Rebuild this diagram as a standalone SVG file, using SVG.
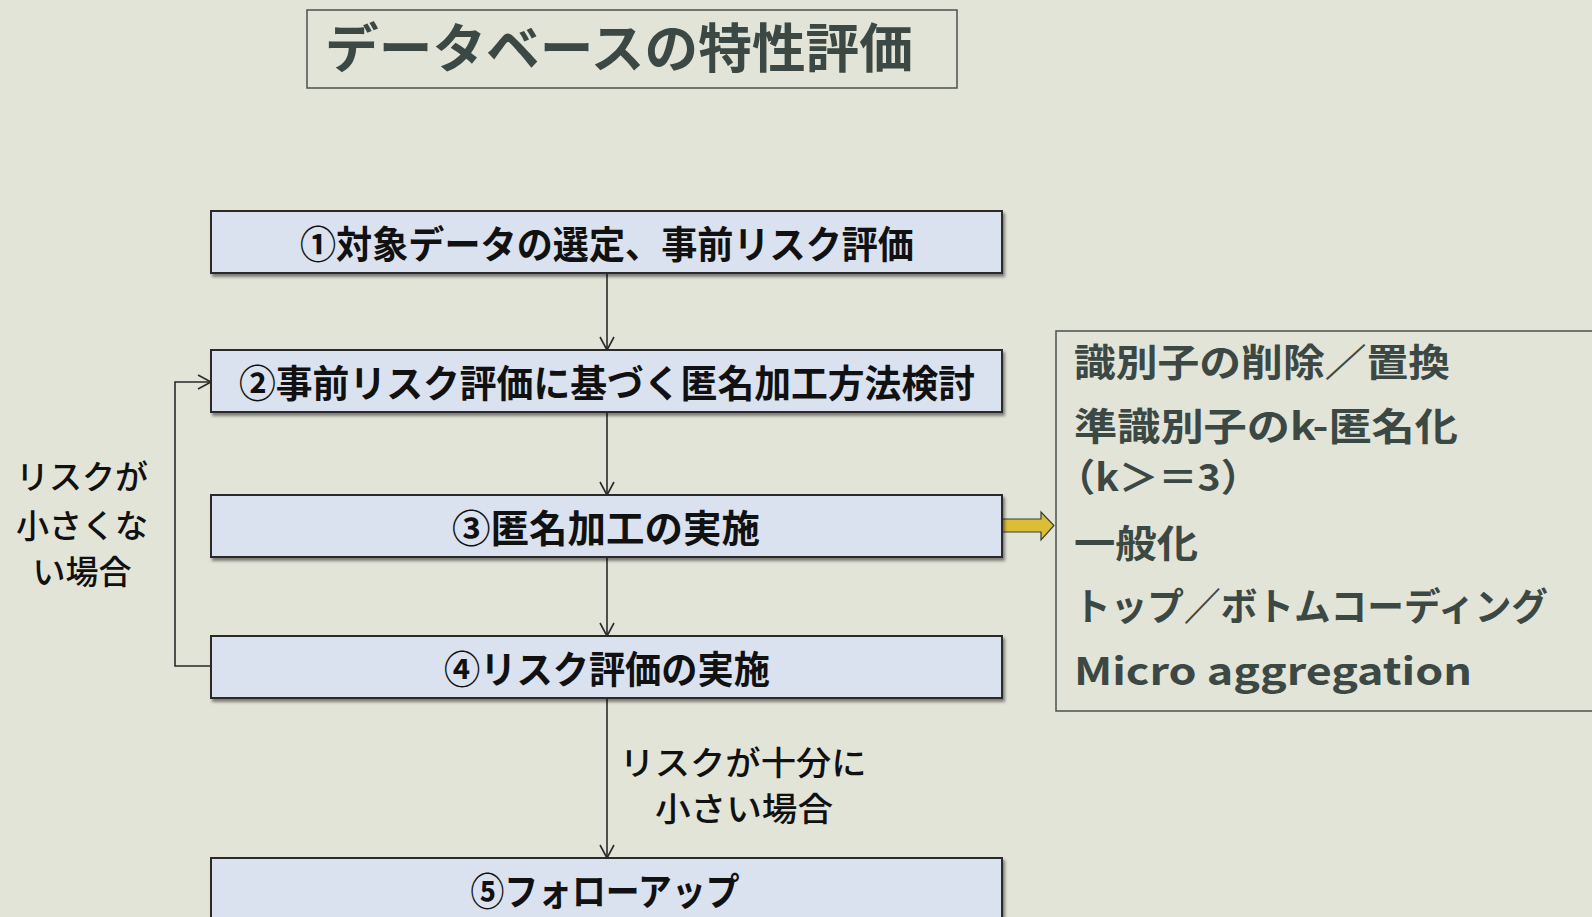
<svg xmlns="http://www.w3.org/2000/svg" width="1592" height="917" viewBox="0 0 1592 917">
<style>
.step{fill:#dae2ef;stroke:#2a2a2a;stroke-width:2}
.stxt{font-family:"Noto Sans CJK JP","Liberation Sans",sans-serif;font-weight:700;font-size:38px;fill:#111;text-anchor:middle}
.lbl{font-family:"Noto Sans CJK JP","Liberation Sans",sans-serif;font-weight:500;font-size:33px;fill:#111;text-anchor:middle}
.rt{font-family:"Noto Sans CJK JP","Noto Sans",sans-serif;font-weight:700;font-size:38px;fill:#3c4843}
.conn{fill:none;stroke:#2a2a2a;stroke-width:1.6}
</style>
<defs>
<filter id="sh" x="-5%" y="-20%" width="110%" height="150%">
<feDropShadow dx="2" dy="3" stdDeviation="1.8" flood-color="#000" flood-opacity="0.45"/>
</filter>
<marker id="ah" markerWidth="16" markerHeight="16" refX="14" refY="8" orient="auto" markerUnits="userSpaceOnUse">
<path d="M1,1 L14,8 L1,15" fill="none" stroke="#2a2a2a" stroke-width="1.6"/>
</marker>
</defs>
<rect width="1592" height="917" fill="#e3e4d8"/>

<g id="title">
<rect x="307" y="10" width="650" height="78" fill="none" stroke="#4a524e" stroke-width="1.5"/>
<text x="325" y="68" font-family="'Noto Sans CJK JP',sans-serif" font-weight="700" font-size="53" fill="#3c4843" textLength="588" lengthAdjust="spacingAndGlyphs">データベースの特性評価</text>
</g>

<g id="connectors">
<line class="conn" x1="607" y1="273" x2="607" y2="350" marker-end="url(#ah)"/>
<line class="conn" x1="607" y1="412" x2="607" y2="495" marker-end="url(#ah)"/>
<line class="conn" x1="607" y1="557" x2="607" y2="636" marker-end="url(#ah)"/>
<line class="conn" x1="607" y1="698" x2="607" y2="858" marker-end="url(#ah)"/>
<polyline class="conn" points="211,666 175,666 175,382 211,382" marker-end="url(#ah)"/>
<path d="M1002,519 L1041,519 L1041,512 L1054,525.5 L1041,540 L1041,532 L1002,532 Z" fill="#dcbe36" stroke="#3a3a3a" stroke-width="1.2"/>
</g>

<g id="step1">
<rect class="step" x="211" y="211" width="791" height="62" filter="url(#sh)"/>
<text class="stxt" x="607" y="258" textLength="614" lengthAdjust="spacingAndGlyphs">①対象データの選定、事前リスク評価</text>
</g>
<g id="step2">
<rect class="step" x="211" y="350" width="791" height="62" filter="url(#sh)"/>
<text class="stxt" x="607" y="397" textLength="736" lengthAdjust="spacingAndGlyphs">②事前リスク評価に基づく匿名加工方法検討</text>
</g>
<g id="step3">
<rect class="step" x="211" y="495" width="791" height="62" filter="url(#sh)"/>
<text class="stxt" x="606" y="542" textLength="308" lengthAdjust="spacingAndGlyphs">③匿名加工の実施</text>
</g>
<g id="step4">
<rect class="step" x="211" y="636" width="791" height="62" filter="url(#sh)"/>
<text class="stxt" x="607" y="683" textLength="326" lengthAdjust="spacingAndGlyphs">④リスク評価の実施</text>
</g>
<g id="step5">
<rect class="step" x="211" y="858" width="791" height="70" filter="url(#sh)"/>
<text class="stxt" x="605" y="905" textLength="269" lengthAdjust="spacingAndGlyphs">⑤フォローアップ</text>
</g>

<g id="label-loop">
<text class="lbl" x="82" y="489">リスクが</text>
<text class="lbl" x="82" y="538">小さくな</text>
<text class="lbl" x="82" y="584">い場合</text>
</g>
<g id="label-ok">
<text class="lbl" x="743" y="775" textLength="247" lengthAdjust="spacingAndGlyphs">リスクが十分に</text>
<text class="lbl" x="744" y="821" textLength="178" lengthAdjust="spacingAndGlyphs">小さい場合</text>
</g>

<g id="methods">
<rect x="1056" y="331" width="545" height="380" fill="none" stroke="#4a524e" stroke-width="1.5"/>
<text class="rt" x="1074" y="376" textLength="376" lengthAdjust="spacingAndGlyphs">識別子の削除／置換</text>
<text class="rt" x="1074" y="440" textLength="384" lengthAdjust="spacingAndGlyphs">準識別子のk-匿名化</text>
<text class="rt" x="1056" y="491" textLength="204" lengthAdjust="spacingAndGlyphs">（k＞＝3）</text>
<text class="rt" x="1074" y="557" textLength="124" lengthAdjust="spacingAndGlyphs">一般化</text>
<text class="rt" x="1074" y="620" textLength="474" lengthAdjust="spacingAndGlyphs">トップ／ボトムコーディング</text>
<text class="rt" x="1074" y="685" textLength="398" lengthAdjust="spacingAndGlyphs">Micro aggregation</text>
</g>
</svg>
